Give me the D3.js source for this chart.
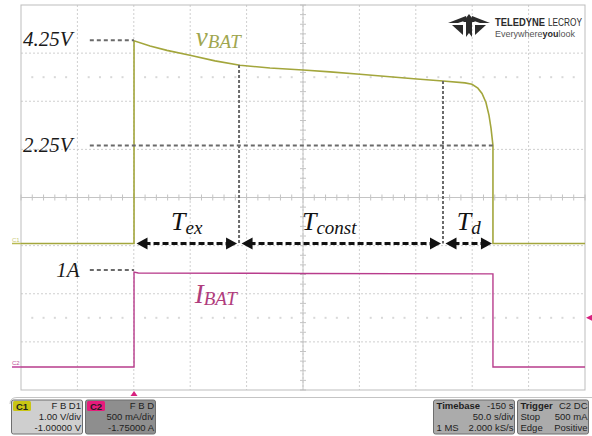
<!DOCTYPE html>
<html>
<head>
<meta charset="utf-8">
<script src="https://cdn.jsdelivr.net/npm/d3@7"></script>
<style>
  body { margin: 0; background: #fff; }
  svg { display: block; }
  .serif { font-family: "Liberation Serif", "Times New Roman", serif; font-style: italic; }
  .info { font-family: "Liberation Sans", Arial, sans-serif; font-size: 9.5px; fill: #1e1e1e; }
  .logo { font-family: "Liberation Sans", Arial, sans-serif; }
</style>
</head>
<body>
<svg id="chart" width="592" height="436"></svg>
<script>
// vBAT trace (time in s, volts)
var vTime = [0, 100.2, 100.2, 114.4, 129.4, 149.8, 172, 194.1, 220.7, 250, 274, 300.5, 327, 351, 374, 393.6, 399.8, 405, 408.7, 412.2, 414.9, 416.7, 418.4, 418.4, 500];
var vVolt = [0, 0, 4.24, 4.13, 4.04, 3.94, 3.82, 3.73, 3.67, 3.63, 3.59, 3.54, 3.49, 3.44, 3.40, 3.36, 3.33, 3.25, 3.14, 2.95, 2.68, 2.41, 2.05, 0, 0];

// IBAT trace (time in s, amps)
var iTime = [0, 100.2, 100.2, 104, 250, 418.4, 418.4, 500];
var iAmp = [0, 0, 1.0, 0.99, 0.985, 0.98, 0, 0];

// reference annotations
var vRefLabels = ["4.25V", "2.25V"];
var vRefLevels = [4.25, 2.05];
var vRefEnds = [100.2, 418.4];
var iRefLabels = ["1A"];
var iRefLevels = [1.02];

// phase markers
var markTimes = [100.2, 193.3, 374.1, 418.4];
var phaseMain = ["T", "T", "T"];
var phaseSub = ["ex", "const", "d"];
var phaseShift = [0, -12, 0];

// scope info boxes
var c1Info = ["F B D1", "1.00 V/div", "-1.00000 V"];
var c2Info = ["F B D", "500 mA/div", "-1.75000 A"];
var tbLeft = ["Timebase", "", "1 MS"];
var tbRight = ["-150 s", "50.0 s/div", "2.000 kS/s"];
var trLeft = ["Trigger", "Stop", "Edge"];
var trRight = ["C2 DC", "500 mA", "Positive"];

var svg = d3.select("#chart");

var gx = d3.scaleLinear().domain([0, 10]).range([21, 585]);
var gy = d3.scaleLinear().domain([0, 8]).range([5, 390]);
var x = d3.scaleLinear().domain([0, 500]).range([21, 585]);
var yV = d3.scaleLinear().domain([0, 1]).range([243.5, 195.7]);
var yI = d3.scaleLinear().domain([0, 1]).range([367, 272]);

// grid
var grid = svg.append("g");
d3.range(1, 10).forEach(function(i) {
    grid.append("line")
        .attr("x1", gx(i)).attr("x2", gx(i))
        .attr("y1", gy(0)).attr("y2", gy(8))
        .attr("stroke", "#cfcfcf").attr("stroke-dasharray", "2,2");
});
d3.range(1, 8).forEach(function(i) {
    grid.append("line")
        .attr("x1", gx(0)).attr("x2", gx(10))
        .attr("y1", gy(i)).attr("y2", gy(i))
        .attr("stroke", "#cfcfcf").attr("stroke-dasharray", "2,2");
});
// center axes with minor ticks
grid.append("line").attr("x1", gx(5)).attr("x2", gx(5)).attr("y1", gy(0)).attr("y2", gy(8))
    .attr("stroke", "#c4c4c4");
grid.append("line").attr("x1", gx(0)).attr("x2", gx(10)).attr("y1", gy(4)).attr("y2", gy(4))
    .attr("stroke", "#c4c4c4");
d3.range(0, 40.01, 1).forEach(function(k) {
    grid.append("line").attr("x1", gx(5) - 3).attr("x2", gx(5) + 3)
        .attr("y1", gy(k / 5)).attr("y2", gy(k / 5)).attr("stroke", "#c4c4c4");
});
d3.range(0, 50.01, 1).forEach(function(k) {
    grid.append("line").attr("x1", gx(k / 5)).attr("x2", gx(k / 5))
        .attr("y1", gy(4) - 3).attr("y2", gy(4) + 3).attr("stroke", "#c4c4c4");
});
// faint dotted rows
[1.5, 6.5].forEach(function(r) {
    d3.range(1, 50).forEach(function(k) {
        if (k % 5 === 0) return;
        grid.append("rect").attr("x", gx(k / 5) - 1).attr("y", gy(r) - 1)
            .attr("width", 2).attr("height", 2).attr("fill", "#d8d8d8");
    });
});
svg.append("rect").attr("x", gx(0)).attr("y", gy(0))
    .attr("width", gx(10) - gx(0)).attr("height", gy(8) - gy(0))
    .attr("fill", "none").attr("stroke", "#bdbdbd");

// logo
var logo = svg.append("g").attr("fill", "#2b2b2b");
logo.append("path").attr("d", "M448,23 L466,16 L467,20 L458,23 Z");
logo.append("path").attr("d", "M490,23 L472,16 L471,20 L480,23 Z");
logo.append("path").attr("d", "M463,22 L469,14 L475,22 L472,22 L472,37 L469,33 L466,37 L466,22 Z");
logo.append("path").attr("d", "M452,25 L463,25 L463,35 Z");
logo.append("path").attr("d", "M486,25 L475,25 L475,35 Z");
svg.append("text").attr("class", "logo").attr("x", 495).attr("y", 25.5)
    .attr("textLength", 50).attr("lengthAdjust", "spacingAndGlyphs")
    .attr("font-weight", "bold").style("font-size", "10.5px").attr("fill", "#2b2b2b")
    .text("TELEDYNE");
svg.append("text").attr("class", "logo").attr("x", 548).attr("y", 25.5)
    .attr("textLength", 34).attr("lengthAdjust", "spacingAndGlyphs")
    .style("font-size", "10.5px").attr("fill", "#2b2b2b")
    .text("LECROY");
var lt2 = svg.append("text").attr("class", "logo").attr("x", 495).attr("y", 36.5)
    .attr("textLength", 80).attr("lengthAdjust", "spacingAndGlyphs")
    .style("font-size", "9px").attr("fill", "#555");
lt2.append("tspan").text("Everywhere");
lt2.append("tspan").attr("font-weight", "bold").attr("fill", "#2b2b2b").text("you");
lt2.append("tspan").text("look");

// channel markers
svg.append("text").attr("x", 12).attr("y", yV(0) - 2).style("font-family", "Liberation Sans, Arial").style("font-size", "6px")
    .attr("fill", "#c8c870").text("C1");
svg.append("line").attr("x1", 12).attr("x2", gx(0)).attr("y1", yV(0)).attr("y2", yV(0))
    .attr("stroke", "#b8ba50").attr("stroke-width", 1.5);
svg.append("text").attr("x", 12).attr("y", yI(0) - 2).style("font-family", "Liberation Sans, Arial").style("font-size", "6px")
    .attr("fill", "#c0509a").text("C2");
svg.append("line").attr("x1", 12).attr("x2", gx(0)).attr("y1", yI(0)).attr("y2", yI(0))
    .attr("stroke", "#c0409a").attr("stroke-width", 1.5);
svg.append("path").attr("d", "M586," + gy(6.5) + " l6,-3 l0,6 Z").attr("fill", "#d8207e");
svg.append("path").attr("d", "M" + x(100.2) + ",391 l-3.5,5 l7,0 Z").attr("fill", "#d8207e");

// traces
var vData = vTime.map(function(t, i) { return [t, vVolt[i]]; });
var iData = iTime.map(function(t, i) { return [t, iAmp[i]]; });
svg.append("path").datum(vData)
    .attr("d", d3.line().x(function(d) { return x(d[0]); }).y(function(d) { return yV(d[1]); }))
    .attr("fill", "none").attr("stroke", "#a3a63c").attr("stroke-width", 1.6);
svg.append("path").datum(iData)
    .attr("d", d3.line().x(function(d) { return x(d[0]); }).y(function(d) { return yI(d[1]); }))
    .attr("fill", "none").attr("stroke", "#b83c8c").attr("stroke-width", 1.4);

// reference dashed lines and labels
var ann = svg.append("g");
vRefLevels.forEach(function(v, i) {
    ann.append("line").attr("x1", x(61)).attr("x2", x(vRefEnds[i]))
        .attr("y1", yV(v)).attr("y2", yV(v))
        .attr("stroke", "#6a6a6a").attr("stroke-width", 2).attr("stroke-dasharray", "4,3");
    ann.append("text").attr("class", "serif").attr("x", x(59) - 15).attr("y", yV(v) + 6)
        .attr("text-anchor", "end").style("font-size", "21px").attr("fill", "#1a1a1a")
        .text(vRefLabels[i]);
});
iRefLevels.forEach(function(a, i) {
    ann.append("line").attr("x1", x(61)).attr("x2", x(100.2))
        .attr("y1", yI(a)).attr("y2", yI(a))
        .attr("stroke", "#6a6a6a").attr("stroke-width", 2).attr("stroke-dasharray", "4,3");
    ann.append("text").attr("class", "serif").attr("x", x(59) - 8).attr("y", yI(a) + 7)
        .attr("text-anchor", "end").style("font-size", "21px").attr("fill", "#1a1a1a")
        .text(iRefLabels[i]);
});

// vertical phase marker lines
function vAt(t) {
    for (var i = 1; i < vTime.length; i++) {
        if (vTime[i] >= t && vTime[i] > vTime[i - 1]) {
            var f = (t - vTime[i - 1]) / (vTime[i] - vTime[i - 1]);
            return vVolt[i - 1] + f * (vVolt[i] - vVolt[i - 1]);
        }
    }
    return 0;
}
[markTimes[1], markTimes[2]].forEach(function(t) {
    ann.append("line").attr("x1", x(t)).attr("x2", x(t))
        .attr("y1", yV(vAt(t))).attr("y2", yV(0))
        .attr("stroke", "#6a6a6a").attr("stroke-width", 2).attr("stroke-dasharray", "3,2");
});

// double arrows
var ay = yV(0);
for (var k = 0; k < 3; k++) {
    var xa = x(markTimes[k]) + 2.5, xb = x(markTimes[k + 1]) - 2;
    if (k === 2) xb = x(markTimes[k + 1]) - 1;
    ann.append("line").attr("x1", xa + 8).attr("x2", xb - 8).attr("y1", ay).attr("y2", ay)
        .attr("stroke", "#111").attr("stroke-width", 3).attr("stroke-dasharray", "6,3");
    ann.append("path").attr("d", "M" + xa + "," + ay + " l11,-6 l0,12 Z").attr("fill", "#111");
    ann.append("path").attr("d", "M" + xb + "," + ay + " l-11,-6 l0,12 Z").attr("fill", "#111");
    var lbl = ann.append("text").attr("class", "serif")
        .attr("x", (xa + xb) / 2 + phaseShift[k]).attr("y", ay - 14)
        .attr("text-anchor", "middle").attr("fill", "#111").style("font-size", "26px");
    lbl.append("tspan").text(phaseMain[k]);
    lbl.append("tspan").attr("dy", 4).style("font-size", "19px").text(phaseSub[k]);
}

// trace labels
var vl = ann.append("text").attr("class", "serif").attr("x", x(155)).attr("y", 46)
    .attr("fill", "#9fa64f").style("font-size", "27px");
vl.append("tspan").text("v");
vl.append("tspan").attr("dy", 2).style("font-size", "19px").text("BAT");
var il = ann.append("text").attr("class", "serif").attr("x", x(154)).attr("y", 303)
    .attr("fill", "#b03c7c").style("font-size", "27px");
il.append("tspan").text("I");
il.append("tspan").attr("dy", 2).style("font-size", "19px").text("BAT");

// bottom panel
svg.append("path").attr("d", "M10,404 Q10,397.5 17,397.5 L592,397.5")
    .attr("fill", "none").attr("stroke", "#c4c4c4");

function infoBox(x0, w, fill, rows, rightX, leftRows) {
    var g = svg.append("g");
    g.append("rect").attr("x", x0).attr("y", 400).attr("width", w).attr("height", 34)
        .attr("rx", 2).attr("fill", fill).attr("stroke", "#6e6e6e");
    rows.forEach(function(r, i) {
        g.append("text").attr("class", "info").attr("x", rightX).attr("y", 409 + i * 11)
            .attr("text-anchor", "end").text(r);
    });
    if (leftRows) {
        leftRows.forEach(function(r, i) {
            g.append("text").attr("class", "info").attr("x", x0 + 3).attr("y", 409 + i * 11)
                .attr("font-weight", i === 0 ? "bold" : "normal").text(r);
        });
    }
    return g;
}
var b1 = infoBox(11.5, 71, "#cfcfcf", c1Info, 81);
b1.append("rect").attr("x", 13).attr("y", 401).attr("width", 18).attr("height", 10).attr("rx", 1.5).attr("fill", "#c9c514");
b1.append("text").attr("class", "info").attr("x", 16).attr("y", 409.5).attr("font-weight", "bold").text("C1");
var b2 = infoBox(85.5, 70, "#8e8e8e", c2Info, 154);
b2.append("rect").attr("x", 87).attr("y", 401).attr("width", 18).attr("height", 10).attr("rx", 1.5).attr("fill", "#e61b7b");
b2.append("text").attr("class", "info").attr("x", 90).attr("y", 409.5).attr("font-weight", "bold").attr("fill", "#ffd0e4").text("C2");
infoBox(433.5, 81, "#ababab", tbRight, 513.5, tbLeft);
infoBox(517.5, 71, "#ababab", trRight, 587.5, trLeft);
</script>
</body>
</html>
